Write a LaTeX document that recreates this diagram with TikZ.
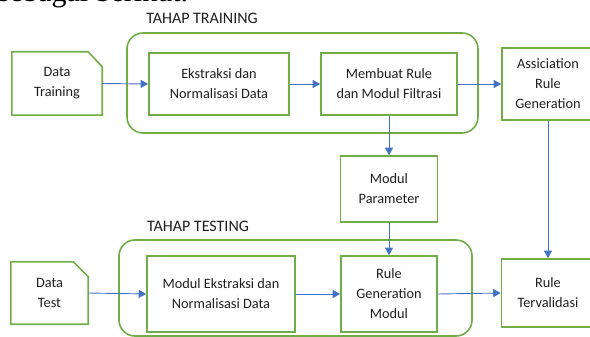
\documentclass[tikz,border=0pt]{standalone}
\usepackage{fontspec}
\setmainfont{Carlito}
\newfontfamily\bodyserif{Liberation Serif}
\usetikzlibrary{arrows.meta}
\definecolor{boxgreen}{HTML}{70AD47}
\definecolor{flowblue}{HTML}{4472C4}
\definecolor{txtgray}{HTML}{1E1E1E}
\begin{document}
\begin{tikzpicture}[x=1pt,y=-1pt,
  every node/.style={text=txtgray,font=\fontsize{14.3}{20}\selectfont,align=center,inner sep=0pt},
  procbox/.style={draw=boxgreen,line width=1.6pt,minimum width=#1},
  stagebox/.style={draw=boxgreen,line width=1.6pt,rounded corners=16pt},
  databox/.style={minimum width=#1},
  flow/.style={draw=flowblue,line width=0.9pt,-{Triangle[length=7.5pt,width=8pt]}},
  stagelabel/.style={font=\fontsize{16}{19}\selectfont}]
\useasboundingbox (0,0) rectangle (590,337);

% running text of the page above the figure
\node[anchor=base west,font=\bodyserif\fontsize{30}{36}\selectfont,text=black] (pagetext) at (-2,2) {sebagai berikut.};

% stage frames
\node[stagebox,minimum width=351pt,minimum height=100pt] (training) at (302.5,83) {};
\node[stagebox,minimum width=353pt,minimum height=96pt] (testing) at (295.5,288) {};
\node[stagelabel] (trainlbl) at (202,18) {TAHAP TRAINING};
\node[stagelabel] (testlbl) at (198,226) {TAHAP TESTING};

% input data (notched document shapes)
\node[databox=90pt,minimum height=63pt] (dtrain) at (57,83.5) {Data\\Training};
\draw[boxgreen,line width=1.6pt] (dtrain.north west) -- ([xshift=-14pt]dtrain.north east)
  -- ([yshift=-15pt]dtrain.north east) -- (dtrain.south east) -- (dtrain.south west) -- cycle;
\node[databox=77pt,minimum height=62pt] (dtest) at (49.5,293) {Data\\Test};
\draw[boxgreen,line width=1.6pt] (dtest.north west) -- ([xshift=-15pt]dtest.north east)
  -- ([yshift=-15pt]dtest.north east) -- (dtest.south east) -- (dtest.south west) -- cycle;

% training stage
\node[procbox=140pt,minimum height=62pt] (ekstr) at (219,84) {Ekstraksi dan\\Normalisasi Data};
\node[procbox=136pt,minimum height=62pt] (rulefilt) at (389,84) {Membuat Rule\\dan Modul Filtrasi};
\node[procbox=92pt,minimum height=72pt] (assoc) at (548,84) {Assiciation\\Rule\\Generation};
\node[procbox=97pt,minimum height=66pt] (param) at (389,189) {Modul\\Parameter};

% testing stage
\node[procbox=148pt,minimum height=76pt] (tekstr) at (221,294) {Modul Ekstraksi dan\\Normalisasi Data};
\node[procbox=96pt,minimum height=76pt] (rulegen) at (389,294) {Rule\\Generation\\Modul};
\node[procbox=93pt,minimum height=68pt] (valid) at (548,293) {Rule\\Tervalidasi};

% connectors
\draw[flow] (dtrain.east) -- (ekstr.west);
\draw[flow] (ekstr.east) -- (rulefilt.west);
\draw[flow] (rulefilt.east) -- (assoc.west);
\draw[flow] (rulefilt.south) -- (param.north);
\draw[flow] (param.south) -- (rulegen.north);
\draw[flow] (assoc.south) -- (valid.north);
\draw[flow] (dtest.east) -- (tekstr.west);
\draw[flow] (tekstr.east) -- (rulegen.west);
\draw[flow] (rulegen.east) -- (valid.west);
\end{tikzpicture}
\end{document}
